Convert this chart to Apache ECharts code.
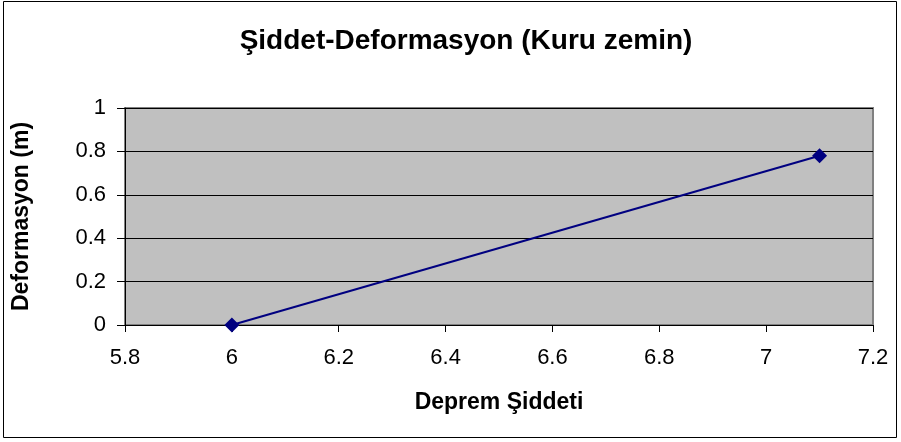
<!DOCTYPE html>
<html>
<head>
<meta charset="utf-8">
<script src="https://cdn.jsdelivr.net/npm/echarts@6/dist/echarts.min.js"></script>
<style>
html,body{margin:0;padding:0;background:#fff;}
#c{width:901px;height:442px;}
</style>
</head>
<body>
<div id="c"></div>
<script>
const titleText = 'Şiddet-Deformasyon (Kuru zemin)';
const xName = 'Deprem Şiddeti';
const yName = 'Deformasyon (m)';
const xValues = [6, 7.1];
const yValues = [0, 0.78];

const chart = echarts.init(document.getElementById('c'));
const font = 'Liberation Sans, Arial, sans-serif';
chart.setOption({
  backgroundColor: '#ffffff',
  animation: false,
  title: {
    text: titleText, left: 461, textAlign: 'center', top: 22,
    textStyle: {fontFamily: font, fontSize: 28, fontWeight: 'bold', color: '#000'}
  },
  graphic: [{
    type: 'rect', shape: {x: 3.5, y: 1.5, width: 893, height: 436},
    style: {fill: 'none', stroke: '#000', lineWidth: 1}, z: -1
  }],
  grid: {
    left: 125, right: 28, top: 108, bottom: 117,
    show: true, backgroundColor: '#c0c0c0', borderColor: '#808080', borderWidth: 2
  },
  xAxis: {
    type: 'value', min: 5.8, max: 7.2, interval: 0.2,
    name: xName, nameLocation: 'middle', nameGap: 66,
    nameTextStyle: {fontFamily: font, fontSize: 23, fontWeight: 'bold', color: '#000'},
    axisLine: {show: true, onZero: false, lineStyle: {color: '#000', width: 1}},
    axisTick: {show: true, length: 7, lineStyle: {color: '#000'}},
    axisLabel: {fontFamily: font, fontSize: 22, color: '#000', margin: 22,
      formatter: v => String(Math.round(v * 10) / 10)},
    splitLine: {show: false}
  },
  yAxis: {
    type: 'value', min: 0, max: 1, interval: 0.2,
    name: yName, nameLocation: 'middle', nameGap: 92, nameRotate: 90,
    nameTextStyle: {fontFamily: font, fontSize: 23, fontWeight: 'bold', color: '#000'},
    axisLine: {show: true, lineStyle: {color: '#000', width: 1}},
    axisTick: {show: true, length: 8, lineStyle: {color: '#000'}},
    axisLabel: {fontFamily: font, fontSize: 22, color: '#000', margin: 19,
      formatter: v => String(Math.round(v * 10) / 10)},
    splitLine: {show: true, lineStyle: {color: '#000', width: 1}}
  },
  series: [{
    type: 'line',
    data: xValues.map((x, i) => [x, yValues[i]]),
    symbol: 'diamond', symbolSize: 15,
    lineStyle: {color: '#000080', width: 2},
    itemStyle: {color: '#000080'}
  }]
});
</script>
</body>
</html>
